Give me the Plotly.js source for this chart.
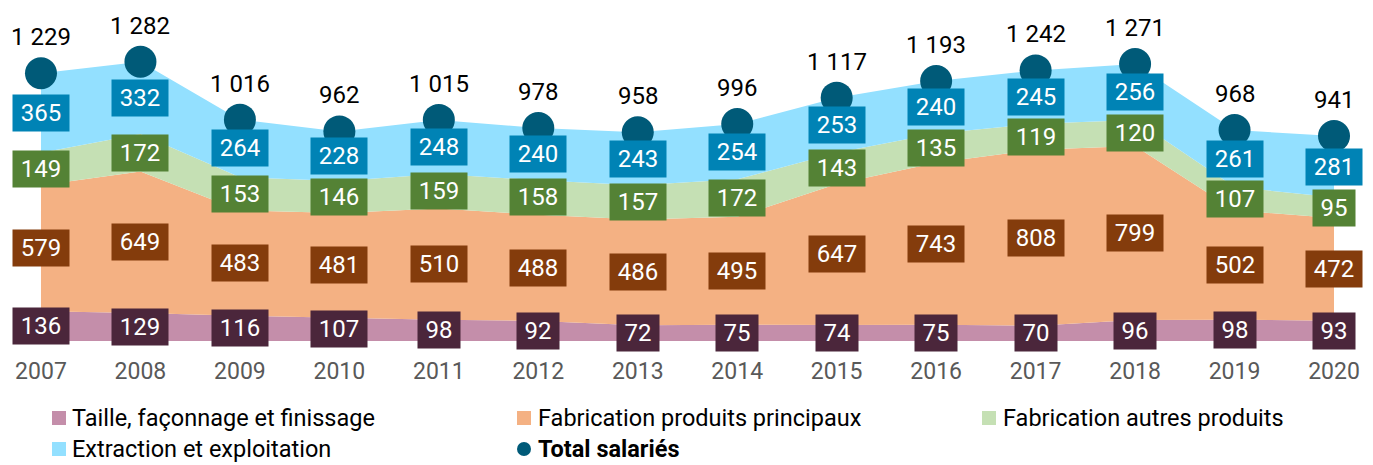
<!DOCTYPE html>
<html><head><meta charset="utf-8">
<script src="https://cdn.plot.ly/plotly-3.0.1.min.js"></script>
<style>html,body{margin:0;padding:0;background:#fff}#chart{width:1373px;height:465px}</style>
</head><body><div id="chart"></div>
<script>
const years = [2007,2008,2009,2010,2011,2012,2013,2014,2015,2016,2017,2018,2019,2020];
const taille = [136,129,116,107,98,92,72,75,74,75,70,96,98,93];
const principaux = [579,649,483,481,510,488,486,495,647,743,808,799,502,472];
const autres = [149,172,153,146,159,158,157,172,143,135,119,120,107,95];
const extraction = [365,332,264,228,248,240,243,254,253,240,245,256,261,281];
const total = [1229,1282,1016,962,1015,978,958,996,1117,1193,1242,1271,968,941];
const names = ["Taille, façonnage et finissage","Fabrication produits principaux","Fabrication autres produits","Extraction et exploitation","<b>Total salariés</b>"];

const series = [taille, principaux, autres, extraction];
const areaColors = ["#C48EAA","#F4B183","#C5E0B4","#93E0FF"];
const boxColors = ["#4B263B","#843C0C","#548235","#0083B5"];
const totalColor = "#005A78";
const FONT = "Roboto, 'Noto Sans', sans-serif";

const W = 1373, H = 465, MT = 36, MB = 124, PH = H - MT - MB;
const px2x = px => px / W;
const py2y = py => (H - MB - py) / PH;

const traces = [];
series.forEach((s,k)=>{
  traces.push({x:years,y:s,type:'scatter',mode:'none',stackgroup:'one',fill:'tonexty',
    fillcolor:areaColors[k],line:{width:0},showlegend:false,hoverinfo:'skip'});
});
traces.push({x:years,y:total,type:'scatter',mode:'markers',name:names[4],
  marker:{size:32,color:totalColor},showlegend:false,cliponaxis:false});

const fmt = v => String(v).replace(/\B(?=(\d{3})+(?!\d))/g, ' ');
const annotations = [];
years.forEach((yr,i)=>{
  let base = 0;
  series.forEach((s,k)=>{
    const v = s[i];
    const t = String(v);
    annotations.push({x:yr,y:base+v/2,xref:'x',yref:'y',text:t,showarrow:false,
      bgcolor:boxColors[k],font:{color:'#fff',size:24,family:FONT},
      width:14+14*t.length,height:36,borderpad:0,align:'center',valign:'middle'});
    base += v;
  });
  annotations.push({x:yr,y:total[i],xref:'x',yref:'y',text:fmt(total[i]),showarrow:false,
    yshift:36,font:{color:'#000',size:24,family:FONT}});
});

// manual legend (layout positions in pixels)
const legendItems = [
  {name:names[0], color:areaColors[0], sym:'rect',  mx:59,  tx:70,  py:418},
  {name:names[1], color:areaColors[1], sym:'rect',  mx:524, tx:536, py:418},
  {name:names[2], color:areaColors[2], sym:'rect',  mx:989, tx:1001, py:418},
  {name:names[3], color:areaColors[3], sym:'rect',  mx:59,  tx:70,  py:449},
  {name:names[4], color:totalColor,    sym:'circle',mx:524, tx:536, py:449}
];
const shapes = [];
legendItems.forEach(it=>{
  shapes.push({type:it.sym,xref:'paper',yref:'paper',xsizemode:'pixel',ysizemode:'pixel',
    xanchor:px2x(it.mx),yanchor:py2y(it.py),x0:-7,x1:7,y0:-7,y1:7,
    fillcolor:it.color,line:{width:0}});
  annotations.push({xref:'paper',yref:'paper',x:px2x(it.tx),y:py2y(it.py),xanchor:'left',yanchor:'middle',
    text:it.name,showarrow:false,font:{size:23.5,color:'#000',family:FONT}});
});

const layout = {
  width:W,height:H,
  margin:{l:0,r:0,t:MT,b:MB},
  paper_bgcolor:'#fff',plot_bgcolor:'#fff',
  font:{family:FONT},
  xaxis:{range:[2006.588,2020.392],tickvals:years,ticktext:years.map(String),showgrid:false,zeroline:false,
    showline:false,ticks:'',ticklabelstandoff:14,tickfont:{size:23,color:'#595959',family:FONT}},
  yaxis:{range:[0,1400],visible:false,showgrid:false,zeroline:false},
  annotations:annotations,
  shapes:shapes,
  showlegend:false
};
Plotly.newPlot('chart',traces,layout,{displayModeBar:false,staticPlot:true});
</script></body></html>
